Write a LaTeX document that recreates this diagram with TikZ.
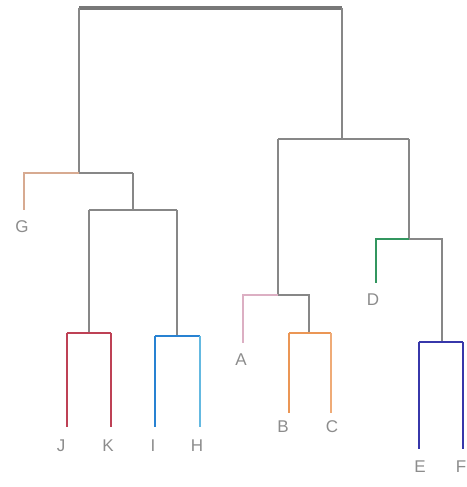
\documentclass[tikz,border=0pt]{standalone}
\usepackage{fontspec}
\setmainfont{Liberation Sans}
\definecolor{lg}{RGB}{135,135,135}
\definecolor{tg}{RGB}{120,120,120}
\definecolor{lbl}{RGB}{140,140,140}
\definecolor{cred}{RGB}{190,65,85}
\definecolor{cblue}{RGB}{40,130,210}
\definecolor{ccyan}{RGB}{100,185,225}
\definecolor{corange}{RGB}{235,150,85}
\definecolor{cdblue}{RGB}{55,55,170}
\definecolor{cgreen}{RGB}{50,150,95}
\definecolor{cpink}{RGB}{220,175,195}
\definecolor{cpeach}{RGB}{215,170,145}
\tikzset{
  br/.style={line width=1.6pt, lg},
  topbr/.style={line width=3.2pt, tg},
  leaflbl/.style={text=lbl, font=\fontsize{17}{17}\selectfont, inner sep=0pt, anchor=center}
}
\begin{document}
\begin{tikzpicture}[x=1pt,y=-1pt]
\useasboundingbox (0,0) rectangle (466,487);
% coordinates
\coordinate (rl) at (79,8);
\coordinate (rr) at (342,8);
% left cluster
\coordinate (L) at (79,173);
\coordinate (Lg) at (24,173);
\coordinate (Lr) at (133,173);
\coordinate (Gend) at (24,210);
\coordinate (M) at (133,210);
\coordinate (Ml) at (89,210);
\coordinate (Mr) at (177,210);
\coordinate (JK) at (89,333);
\coordinate (JKl) at (67,333);
\coordinate (JKr) at (111,333);
\coordinate (Jend) at (67,427);
\coordinate (Kend) at (111,427);
\coordinate (IH) at (177,336);
\coordinate (IHl) at (155,336);
\coordinate (IHr) at (200,336);
\coordinate (Iend) at (155,427);
\coordinate (Hend) at (200,427);
% right cluster
\coordinate (R) at (342,139);
\coordinate (Rl) at (278,139);
\coordinate (Rr) at (409,139);
\coordinate (P) at (278,295);
\coordinate (Pa) at (243,295);
\coordinate (Pr) at (309,295);
\coordinate (Aend) at (243,343);
\coordinate (BC) at (309,333);
\coordinate (BCl) at (289,333);
\coordinate (BCr) at (331,333);
\coordinate (Bend) at (289,413);
\coordinate (Cend) at (331,413);
\coordinate (Q) at (409,239);
\coordinate (Qd) at (376,239);
\coordinate (Qr) at (442,239);
\coordinate (Dend) at (376,283);
\coordinate (EF) at (442,342);
\coordinate (EFl) at (419,342);
\coordinate (EFr) at (463,342);
\coordinate (Eend) at (419,449);
\coordinate (Fend) at (463,449);
% labels
\node[leaflbl] (G) at (22,227) {G};
\node[leaflbl] (J) at (61,446) {J};
\node[leaflbl] (K) at (108,446) {K};
\node[leaflbl] (I) at (153,446) {I};
\node[leaflbl] (H) at (197,446) {H};
\node[leaflbl] (A) at (241,360) {A};
\node[leaflbl] (B) at (283,427) {B};
\node[leaflbl] (C) at (332,427) {C};
\node[leaflbl] (D) at (373,300) {D};
\node[leaflbl] (E) at (420,467) {E};
\node[leaflbl] (F) at (461,467) {F};
% root
\draw[topbr] (rl) -- (rr);
\draw[br] (L) -- (rl);
\draw[br] (R) -- (rr);
% left cluster
\draw[br, cpeach] (L) -- (Lg) -- (Gend);
\draw[br] (L) -- (Lr);
\draw[br] (Lr) -- (M);
\draw[br] (Ml) -- (Mr);
\draw[br] (Ml) -- (JK);
\draw[br] (Mr) -- (IH);
\draw[br, cred] (JKl) -- (JKr);
\draw[br, cred] (JKl) -- (Jend);
\draw[br, cred] (JKr) -- (Kend);
\draw[line width=2.4pt, cblue] (IHl) -- (IHr);
\draw[br, cblue] (IHl) -- (Iend);
\draw[br, ccyan] (IHr) -- (Hend);
% right cluster
\draw[br] (Rl) -- (Rr);
\draw[br] (Rl) -- (P);
\draw[br, cpink] (P) -- (Pa) -- (Aend);
\draw[br] (P) -- (Pr) -- (BC);
\draw[br, corange] (BCl) -- (BCr);
\draw[br, corange] (BCl) -- (Bend);
\draw[br, corange!80!white] (BCr) -- (Cend);
\draw[br] (Rr) -- (Q);
\draw[br, cgreen] (Q) -- (Qd) -- (Dend);
\draw[br] (Q) -- (Qr) -- (EF);
\draw[br, cdblue] (EFl) -- (EFr);
\draw[br, cdblue] (EFl) -- (Eend);
\draw[br, cdblue] (EFr) -- (Fend);
\end{tikzpicture}
\end{document}
